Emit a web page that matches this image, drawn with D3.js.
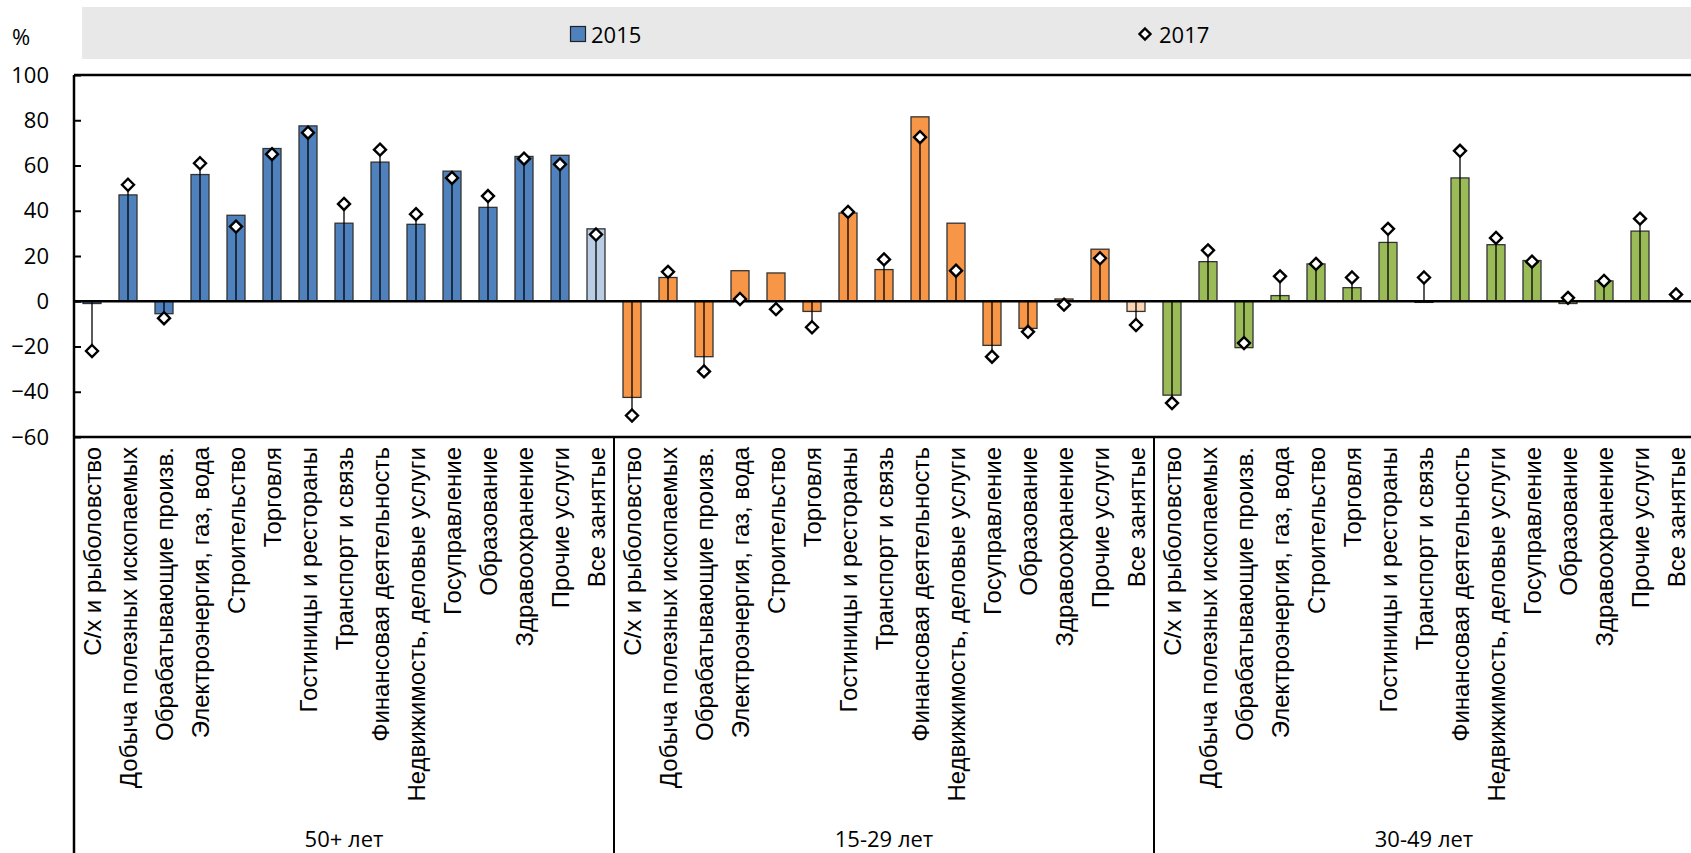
<!DOCTYPE html>
<html>
    <head>
        <meta charset="utf-8"/>
        <script src="https://cdnjs.cloudflare.com/ajax/libs/d3/7.8.5/d3.min.js"></script>
        <style>
            body { margin: 0; background: #fff; }
            text { font-family: "Open Sans", sans-serif; fill: #000; }
            text.cat { font-family: "Liberation Sans", Arial, sans-serif; }
        </style>
    </head>
    <body>
        <script>
            // data
            const groups = ["50+ лет", "15-29 лет", "30-49 лет"];
            const categories = [
                "С/х и рыболовство", "Добыча полезных ископаемых", "Обрабатывающие произв.",
                "Электроэнергия, газ, вода", "Строительство", "Торговля", "Гостиницы и рестораны",
                "Транспорт и связь", "Финансовая деятельность", "Недвижимость, деловые услуги",
                "Госуправление", "Образование", "Здравоохранение", "Прочие услуги", "Все занятые"
            ];
            const v2015_50 = [-1, 47, -5.5, 56, 38, 67.5, 77.5, 34.5, 61.5, 34, 57.5, 41.5, 64, 64.5, 32];
            const v2017_50 = [-22, 51.5, -7.5, 61, 33, 65, 74.5, 43, 67, 38.5, 54.5, 46.5, 63, 60.5, 29.5];
            const v2015_15 = [-42.5, 10.5, -24.5, 13.5, 12.5, -4.5, 39, 14, 81.5, 34.5, -19.5, -12, 1, 23, -4.5];
            const v2017_15 = [-50.5, 13, -31, 1, -3.5, -11.5, 39.5, 18.5, 72.5, 13.5, -24.5, -13.5, -1.5, 19, -10.5];
            const v2015_30 = [-41.5, 17.5, -20.5, 2.5, 16.5, 6, 26, -0.5, 54.5, 25, 18, -1, 9, 31, 0];
            const v2017_30 = [-45, 22.5, -18.5, 11, 16.5, 10.5, 32, 10.5, 66.5, 28, 17.5, 1.5, 9, 36.5, 3];
            const yTicks = [-60, -40, -20, 0, 20, 40, 60, 80, 100];
            const seriesNames = ["2015", "2017"];

            const colors = ["#4f81bd", "#f79646", "#9bbb59"];
            const lightColors = ["#b9cde5", "#fcd5b5", "#d7e4bd"];

            const width = 1691, height = 853;
            const mLeft = 74, mRight = 1694, mTop = 75, mBottom = 437;

            const v2015 = [v2015_50, v2015_15, v2015_30];
            const v2017 = [v2017_50, v2017_15, v2017_30];
            const rows = [];
            groups.forEach((g, gi) => {
                categories.forEach((c, ci) => {
                    rows.push({key: g + "|" + c, group: g, gi, cat: c, ci, a: v2015[gi][ci], b: v2017[gi][ci]});
                });
            });

            const svg = d3.select("body").append("svg")
                .attr("width", width).attr("height", height);

            const x = d3.scaleBand().domain(rows.map(d => d.key))
                .range([mLeft, mRight]).paddingInner(0.5).paddingOuter(0.25);
            const xg = d3.scaleBand().domain(groups).range([mLeft, mRight]);
            const y = d3.scaleLinear().domain([-60, 100]).range([mBottom, mTop]);

            // legend band
            svg.append("rect").attr("x", 82).attr("y", 7).attr("width", width - 82).attr("height", 52)
                .attr("fill", "#e8e8e8");
            svg.append("rect").attr("x", 570.5).attr("y", 26.5).attr("width", 15).attr("height", 15)
                .attr("fill", colors[0]).attr("stroke", "#222").attr("stroke-width", 1.2);
            svg.append("text").attr("x", 591).attr("y", 34).attr("dominant-baseline", "central")
                .attr("font-size", 22).text(seriesNames[0]);
            svg.append("path").attr("transform", "translate(1145,34)")
                .attr("d", "M0,-5.5L5.5,0L0,5.5L-5.5,0Z")
                .attr("fill", "#fff").attr("stroke", "#000").attr("stroke-width", 2.4);
            svg.append("text").attr("x", 1159).attr("y", 34).attr("dominant-baseline", "central")
                .attr("font-size", 22).text(seriesNames[1]);
            svg.append("text").attr("x", 12).attr("y", 36).attr("dominant-baseline", "central")
                .attr("font-size", 22).text("%");

            // y axis
            svg.append("g").attr("transform", `translate(${mLeft},0)`)
                .call(d3.axisLeft(y).tickValues(yTicks).tickSizeInner(-7).tickSizeOuter(0).tickPadding(25))
                .call(g => g.select(".domain").remove())
                .call(g => g.selectAll("line").attr("stroke", "#000").attr("stroke-width", 2))
                .call(g => g.selectAll("text").attr("font-size", 22).attr("fill", "#000"));

            // bars
            svg.append("g").selectAll("rect").data(rows.filter(d => d.a !== 0)).join("rect")
                .attr("x", d => x(d.key))
                .attr("width", x.bandwidth())
                .attr("y", d => y(Math.max(0, d.a)))
                .attr("height", d => Math.abs(y(d.a) - y(0)))
                .attr("fill", d => d.ci === categories.length - 1 ? lightColors[d.gi] : colors[d.gi])
                .attr("stroke", "#333").attr("stroke-width", 1.3);

            // drop lines from zero to 2017 point
            svg.append("g").selectAll("line").data(rows).join("line")
                .attr("x1", d => x(d.key) + x.bandwidth() / 2)
                .attr("x2", d => x(d.key) + x.bandwidth() / 2)
                .attr("y1", y(0)).attr("y2", d => y(d.b))
                .attr("stroke", "#000").attr("stroke-width", 1.3);

            // frame lines
            const frame = svg.append("g").attr("stroke", "#000").attr("stroke-width", 2.5);
            frame.append("line").attr("x1", mLeft).attr("x2", width).attr("y1", mTop).attr("y2", mTop);
            frame.append("line").attr("x1", mLeft).attr("x2", width).attr("y1", mBottom).attr("y2", mBottom);
            frame.append("line").attr("x1", mLeft).attr("x2", width).attr("y1", y(0)).attr("y2", y(0));
            frame.append("line").attr("x1", mLeft).attr("x2", mLeft).attr("y1", mTop).attr("y2", height);
            frame.selectAll(".sep").data(groups.slice(1)).join("line")
                .attr("x1", d => xg(d)).attr("x2", d => xg(d))
                .attr("y1", mBottom).attr("y2", height).attr("stroke-width", 2);

            // 2017 markers
            svg.append("g").selectAll("path").data(rows).join("path")
                .attr("transform", d => `translate(${x(d.key) + x.bandwidth() / 2},${y(d.b)})`)
                .attr("d", "M0,-6L6,0L0,6L-6,0Z")
                .attr("fill", "#fff").attr("stroke", "#000").attr("stroke-width", 2.4);

            // category labels
            svg.append("g").selectAll("text").data(rows).join("text")
                .attr("class", "cat")
                .attr("transform", d => `translate(${x(d.key) + x.bandwidth() / 2},447) rotate(-90)`)
                .attr("text-anchor", "end").attr("dominant-baseline", "central")
                .attr("font-size", 24).text(d => d.cat);

            // group labels
            svg.append("g").selectAll("text").data(groups).join("text")
                .attr("x", d => xg(d) + xg.bandwidth() / 2).attr("y", 838)
                .attr("text-anchor", "middle").attr("dominant-baseline", "central")
                .attr("font-size", 22).text(d => d);
        </script>
    </body>
</html>
